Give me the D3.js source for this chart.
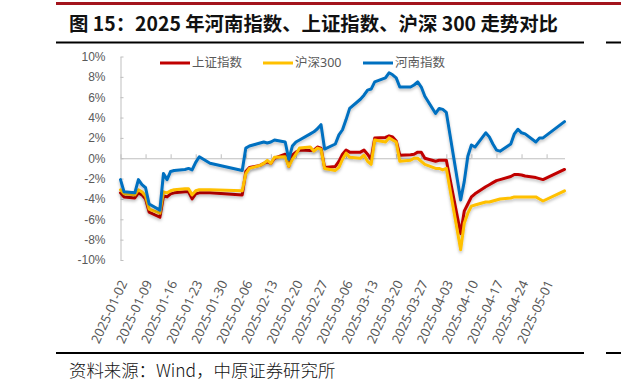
<!DOCTYPE html>
<html>
<head>
<meta charset="utf-8">
<script src="https://cdn.jsdelivr.net/npm/d3@7"></script>
<style>
  body { margin: 0; background: #fff; }
  svg { display: block; font-family: "Noto Sans", "Noto Sans CJK SC", sans-serif; }
</style>
</head>
<body>
<svg id="chart" width="621" height="391"></svg>
<script>
// trading days shown in the chart
const dates = [
  "2025-01-02","2025-01-03","2025-01-06","2025-01-07","2025-01-08","2025-01-09","2025-01-10",
  "2025-01-13","2025-01-14","2025-01-15","2025-01-16","2025-01-17","2025-01-20","2025-01-21",
  "2025-01-22","2025-01-23","2025-01-24","2025-01-27",
  "2025-02-05","2025-02-06","2025-02-07","2025-02-10","2025-02-11","2025-02-12","2025-02-13",
  "2025-02-14","2025-02-17","2025-02-18","2025-02-19","2025-02-20","2025-02-21","2025-02-24",
  "2025-02-25","2025-02-26","2025-02-27","2025-02-28",
  "2025-03-03","2025-03-04","2025-03-05","2025-03-06","2025-03-07","2025-03-10","2025-03-11",
  "2025-03-12","2025-03-13","2025-03-14","2025-03-17","2025-03-18","2025-03-19","2025-03-20",
  "2025-03-21","2025-03-24","2025-03-25","2025-03-26","2025-03-27","2025-03-28","2025-03-31",
  "2025-04-01","2025-04-02","2025-04-03","2025-04-07","2025-04-08","2025-04-09","2025-04-10",
  "2025-04-11","2025-04-14","2025-04-15","2025-04-16","2025-04-17","2025-04-18","2025-04-21",
  "2025-04-22","2025-04-23","2025-04-24","2025-04-25","2025-04-28","2025-04-29","2025-04-30",
  "2025-05-06"
];

// 上证指数 (%)
const shIndex = [
  -3.4,-3.8,-3.9,-3.4,-3.6,-4.0,-5.3,-5.8,-3.7,-3.8,-3.5,-3.4,-3.3,-3.3,-4.0,-3.5,-3.4,-3.4,
  -3.6,-1.3,-0.9,-0.7,-0.5,-0.35,-0.5,0.0,0.4,-0.8,0.3,0.6,0.8,0.75,0.8,1.1,1.0,-0.9,
  -0.8,-0.3,0.4,0.8,0.6,0.6,0.8,0.4,-0.1,2.0,2.05,2.2,2.1,1.7,0.3,0.35,0.4,0.6,0.6,0.0,-0.3,
  -0.2,-0.2,-0.2,-7.4,-5.2,-4.5,-3.8,-3.5,-2.8,-2.6,-2.4,-2.2,-2.1,-1.8,-1.6,-1.6,-1.65,-1.75,
  -1.9,-2.0,-2.1,
  -1.1
];

// 沪深300 (%)
const hs300 = [
  -3.1,-3.5,-3.6,-3.1,-3.3,-3.7,-5.0,-5.4,-3.3,-3.4,-3.2,-3.1,-3.0,-3.0,-3.6,-3.2,-3.1,-3.1,
  -3.2,-1.5,-1.0,-0.7,-0.5,-0.2,-0.5,0.1,0.15,-0.8,-0.1,0.4,1.0,1.1,0.7,1.0,0.9,-1.0,
  -1.2,-0.9,-0.1,0.5,0.1,0.0,0.3,-0.3,-0.6,1.8,1.6,2.0,1.8,1.6,-0.3,-0.2,0.0,0.0,-0.3,-0.6,-1.0,
  -1.0,-1.15,-1.0,-9.0,-6.4,-5.4,-4.7,-4.6,-4.3,-4.3,-4.2,-4.1,-4.0,-3.9,-3.8,-3.8,-3.8,-3.8,
  -3.8,-4.0,-4.2,
  -3.2
];

// 河南指数 (%)
const henan = [
  -2.1,-3.3,-3.4,-2.1,-2.6,-2.9,-4.5,-5.1,-1.5,-2.1,-1.3,-1.2,-1.1,-1.0,-1.15,-0.4,0.15,-0.5,
  -1.2,1.0,1.2,1.5,1.6,1.5,1.6,1.8,1.6,-0.1,1.2,1.6,1.8,2.4,2.6,2.9,3.3,0.9,
  1.4,2.3,2.8,3.8,4.9,5.8,6.2,6.7,6.8,7.5,7.9,8.4,8.2,7.9,7.0,7.0,7.2,7.5,7.0,6.1,4.4,
  4.9,4.8,4.5,-4.1,-2.3,0.2,1.3,1.1,2.5,2.1,1.4,0.8,0.7,1.4,2.4,2.85,2.5,2.4,
  1.6,2.0,2.0,
  3.6
];

const seriesNames = ["上证指数", "沪深300", "河南指数"];
const seriesColors = ["#C00000", "#FFC000", "#0070C0"];

const tickLabels = [
  "2025-01-02","2025-01-09","2025-01-16","2025-01-23","2025-01-30","2025-02-06",
  "2025-02-13","2025-02-20","2025-02-27","2025-03-06","2025-03-13","2025-03-20",
  "2025-03-27","2025-04-03","2025-04-10","2025-04-17","2025-04-24","2025-05-01"
];
const yTicks = [10, 8, 6, 4, 2, 0, -2, -4, -6, -8, -10];

const titleText = "图 15：2025 年河南指数、上证指数、沪深 300 走势对比";
const sourceText = "资料来源：Wind，中原证券研究所";

const svg = d3.select("#chart");
const parse = d3.timeParse("%Y-%m-%d");
const series = [shIndex, hs300, henan];

// soft shadow under the lines
svg.append("defs").append("filter")
  .attr("id", "shadow")
  .attr("x", "-5%").attr("y", "-10%").attr("width", "110%").attr("height", "130%")
  .append("feDropShadow")
  .attr("dx", 0).attr("dy", 2).attr("stdDeviation", 1.8)
  .attr("flood-color", "#000").attr("flood-opacity", 0.25);

// page frame: red rule, title, black rules
svg.append("rect").attr("x", 56).attr("y", 2).attr("width", 565).attr("height", 3).attr("fill", "#A3141C");
svg.append("text")
  .attr("x", 69).attr("y", 31)
  .attr("font-family", "'Noto Sans CJK SC', sans-serif")
  .attr("font-size", 19.4).attr("font-weight", 700).attr("fill", "#111")
  .text(titleText);
svg.append("rect").attr("x", 56).attr("y", 41.5).attr("width", 528).attr("height", 2).attr("fill", "#000");
svg.append("rect").attr("x", 606).attr("y", 41.5).attr("width", 15).attr("height", 2).attr("fill", "#000");
svg.append("rect").attr("x", 56).attr("y", 352).attr("width", 528).attr("height", 2).attr("fill", "#000");
svg.append("rect").attr("x", 606).attr("y", 352).attr("width", 15).attr("height", 2).attr("fill", "#000");
svg.append("text")
  .attr("x", 69).attr("y", 377)
  .attr("font-family", "'Noto Sans CJK SC', sans-serif")
  .attr("font-size", 17.4).attr("font-weight", 300).attr("fill", "#111")
  .text(sourceText);

// scales
const x = d3.scaleTime()
  .domain([parse(dates[0]), parse(dates[dates.length - 1])])
  .range([120.5, 564.5]);
const y = d3.scaleLinear()
  .domain([-10, 10])
  .range([260, 56.5]);

// y axis
const yAxis = svg.append("g")
  .attr("transform", "translate(120.5,0)")
  .call(d3.axisLeft(y).tickValues(yTicks).tickFormat(d => d + "%")
    .tickSizeInner(-3).tickSizeOuter(0).tickPadding(15));
yAxis.select(".domain").attr("stroke", "#BFBFBF");
yAxis.selectAll(".tick line").attr("stroke", "#BFBFBF");
yAxis.selectAll("text").attr("fill", "#595959").attr("font-size", 12);

// zero line with weekly ticks pointing up
const tickDates = tickLabels.map(parse);
const xAxis = svg.append("g")
  .attr("transform", `translate(0,${y(0)})`)
  .call(d3.axisBottom(x).tickValues(tickDates).tickFormat("")
    .tickSizeInner(-4).tickSizeOuter(0));
xAxis.select(".domain").attr("stroke", "#BFBFBF");
xAxis.selectAll(".tick line").attr("stroke", "#BFBFBF");

// date labels at the bottom
svg.append("g")
  .selectAll("text")
  .data(tickDates)
  .join("text")
  .attr("transform", d => `translate(${x(d) + 3},281) rotate(-65)`)
  .attr("text-anchor", "end")
  .attr("dy", "0.35em")
  .attr("font-size", 13)
  .attr("fill", "#595959")
  .text((d, i) => tickLabels[i]);

// lines
const line = d3.line()
  .x((d, i) => x(parse(dates[i])))
  .y(d => y(d));

svg.append("g")
  .selectAll("path")
  .data(series)
  .join("path")
  .attr("d", line)
  .attr("fill", "none")
  .attr("stroke", (d, i) => seriesColors[i])
  .attr("stroke-width", 3)
  .attr("stroke-linejoin", "round")
  .attr("stroke-linecap", "round")
  .attr("filter", "url(#shadow)");

// legend
const legendX = [160, 263, 363];
const legend = svg.append("g")
  .selectAll("g")
  .data(seriesNames)
  .join("g")
  .attr("transform", (d, i) => `translate(${legendX[i]},63)`);
legend.append("line")
  .attr("x1", 0).attr("x2", 30)
  .attr("stroke", (d, i) => seriesColors[i])
  .attr("stroke-width", 3);
legend.append("text")
  .attr("x", 32).attr("dy", "0.35em")
  .attr("font-size", 12.5)
  .attr("fill", "#595959")
  .text(d => d);
</script>
</body>
</html>
